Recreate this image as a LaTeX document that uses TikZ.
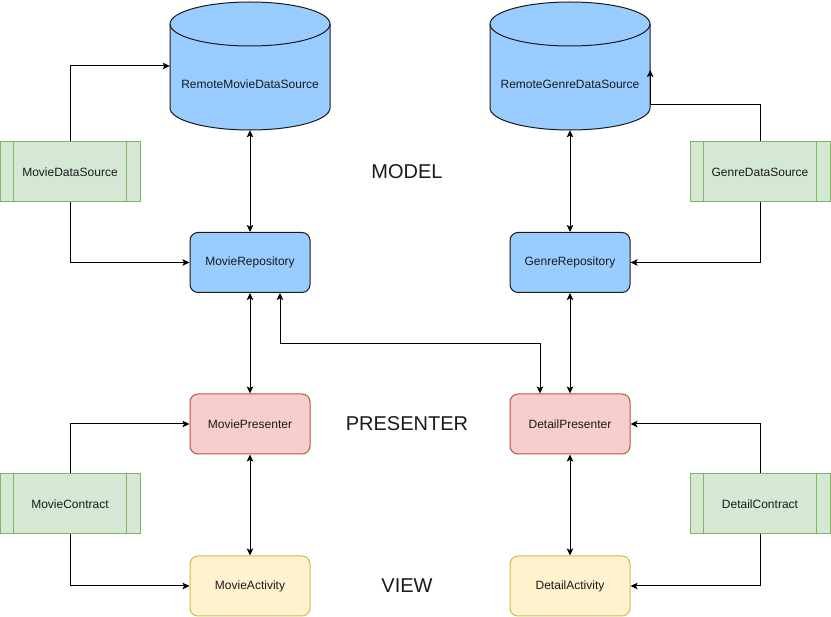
\documentclass[tikz,border=0pt]{standalone}
\usepackage{fontspec}
\setmainfont{Liberation Sans}
\usetikzlibrary{arrows.meta}
\definecolor{blueF}{HTML}{99CCFF}
\definecolor{blueD}{HTML}{1A1A1A}
\definecolor{pinkF}{HTML}{F8CECC}
\definecolor{pinkD}{HTML}{B85450}
\definecolor{yelF}{HTML}{FFF2CC}
\definecolor{yelD}{HTML}{D6B656}
\definecolor{grnF}{HTML}{D5E8D4}
\definecolor{grnD}{HTML}{82B366}
\definecolor{txt}{HTML}{1A1A1A}
\tikzset{
  base/.style={rectangle, minimum width=120pt, minimum height=60pt, inner sep=0pt, line width=1pt, text=txt, font=\fontsize{12}{14}\selectfont},
  bluebox/.style={base, rounded corners=8pt, draw=blueD, fill=blueF},
  pinkbox/.style={base, rounded corners=8pt, draw=pinkD, fill=pinkF},
  yelbox/.style={base, rounded corners=8pt, draw=yelD, fill=yelF},
  procbox/.style={base, minimum width=140pt, draw=grnD, fill=grnF},
  cylnode/.style={rectangle, minimum width=160pt, minimum height=128pt, inner sep=0pt},
  cyltext/.style={text=txt, font=\fontsize{12}{14}\selectfont, inner sep=0pt},
  layer/.style={text=txt, font=\fontsize{20}{24}\selectfont, inner sep=0pt},
  arr/.style={line width=1pt, -{Stealth[length=7pt,width=6.5pt,inset=1.5pt]}},
  arrtwo/.style={line width=1pt, {Stealth[length=7pt,width=6.5pt,inset=1.5pt]}-{Stealth[length=7pt,width=6.5pt,inset=1.5pt]}},
  cylpic/.pic={
    \draw[line width=1pt, draw=blueD, fill=blueF]
      (0,22) -- (0,106) .. controls (0,118.15) and (35.82,128) .. (80,128)
      .. controls (124.18,128) and (160,118.15) .. (160,106) -- (160,22)
      .. controls (160,9.85) and (124.18,0) .. (80,0)
      .. controls (35.82,0) and (0,9.85) .. (0,22) -- cycle;
    \draw[line width=1pt, draw=blueD]
      (0,22) .. controls (0,34.15) and (35.82,44) .. (80,44)
      .. controls (124.18,44) and (160,34.15) .. (160,22);
  }
}
\begin{document}
\begin{tikzpicture}[x=1pt,y=-1pt]
\fill[white] (0,0) rectangle (831,617);
\useasboundingbox (0,0) rectangle (831,617);

% cylinders
\pic at (170,2) {cylpic};
\pic at (490,2) {cylpic};
\node[cylnode] (rmds) at (250,66) {};
\node[cylnode] (rgds) at (570,66) {};
\node[cyltext] (rmdsT) at (250,84) {RemoteMovieDataSource};
\node[cyltext] (rgdsT) at (570,84) {RemoteGenreDataSource};

% main boxes
\node[bluebox] (mrep) at (250,262.5) {MovieRepository};
\node[bluebox] (grep) at (570,262.5) {GenreRepository};
\node[pinkbox] (mp) at (250,424) {MoviePresenter};
\node[pinkbox] (dp) at (570,424) {DetailPresenter};
\node[yelbox] (ma) at (250,586) {MovieActivity};
\node[yelbox] (da) at (570,586) {DetailActivity};

% process boxes
\node[procbox] (mds) at (70,172) {MovieDataSource};
\node[procbox] (gds) at (760,172) {GenreDataSource};
\node[procbox] (mc) at (70,504) {MovieContract};
\node[procbox] (dc) at (760,504) {DetailContract};
\foreach \n in {mds,gds,mc,dc}{
  \draw[line width=1pt, draw=grnD] ([xshift=14pt]\n.north west) -- ([xshift=14pt]\n.south west);
  \draw[line width=1pt, draw=grnD] ([xshift=-14pt]\n.north east) -- ([xshift=-14pt]\n.south east);
}

% layer labels
\node[layer] (model) at (407,172) {MODEL};
\node[layer] (presenter) at (407,424) {PRESENTER};
\node[layer] (view) at (407,586) {VIEW};

% connectors
\draw[arr] (mds.north) |- (rmds.west);
\draw[arr] (mds.south) |- (mrep.west);
\draw[arr] (gds.north) |- ([yshift=-39pt]rgds.east) -- ([yshift=-4pt]rgds.east);
\draw[arr] (gds.south) |- (grep.east);
\draw[arrtwo] (rmds.south) -- (mrep.north);
\draw[arrtwo] (rgds.south) -- (grep.north);
\draw[arrtwo] (mrep.south) -- (mp.north);
\draw[arrtwo] (grep.south) -- (dp.north);
\draw[arrtwo] ([xshift=30pt]mrep.south) -- ++(0,51) -| ([xshift=-30pt]dp.north);
\draw[arrtwo] (mp.south) -- (ma.north);
\draw[arrtwo] (dp.south) -- (da.north);
\draw[arr] (mc.north) |- (mp.west);
\draw[arr] (mc.south) |- (ma.west);
\draw[arr] (dc.north) |- (dp.east);
\draw[arr] (dc.south) |- (da.east);
\end{tikzpicture}
\end{document}
